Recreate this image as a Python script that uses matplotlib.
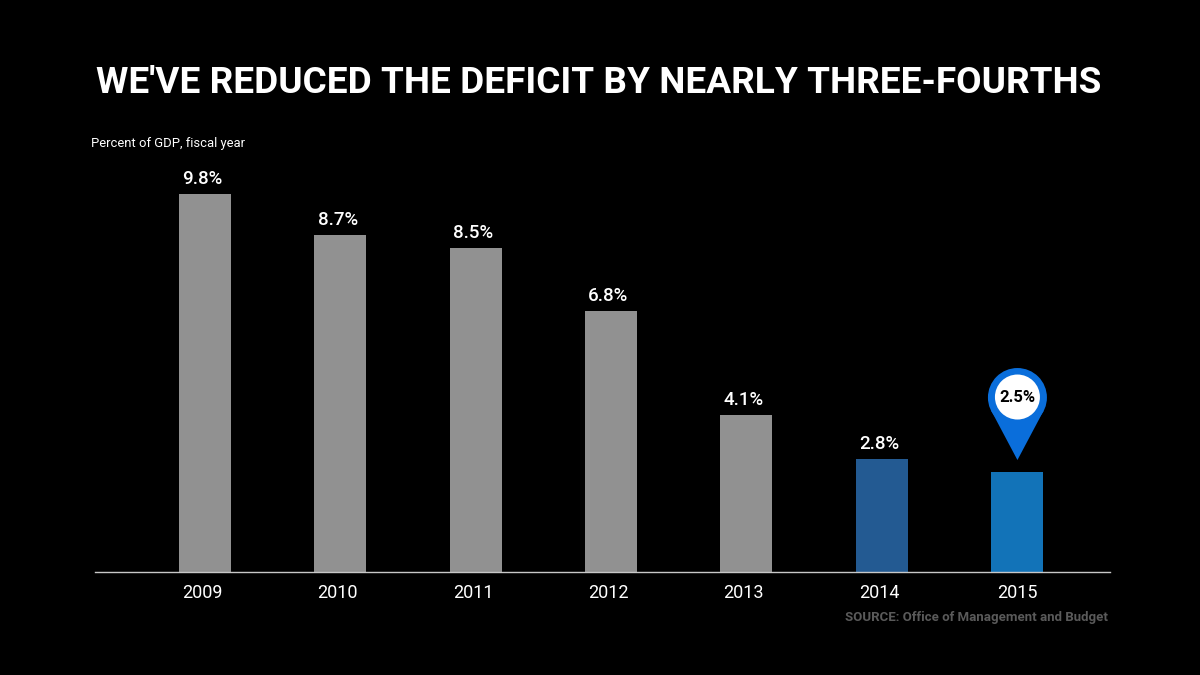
"""Deficit as a share of GDP, 2009-2015, dark slide style."""
import matplotlib

matplotlib.use("Agg")
import matplotlib.pyplot as plt
from matplotlib.patches import Circle, Polygon
from matplotlib.transforms import Affine2D, ScaledTranslation

years = ["2009", "2010", "2011", "2012", "2013", "2014", "2015"]
deficit = [9.8, 8.73, 8.4, 6.76, 4.07, 2.93, 2.59]
labels = ["9.8%", "8.7%", "8.5%", "6.8%", "4.1%", "2.8%", "2.5%"]
bar_colors = ["#919191", "#919191", "#919191", "#919191", "#919191", "#235a92", "#1273b8"]

TITLE = "WE'VE REDUCED THE DEFICIT BY NEARLY THREE-FOURTHS"
UNITS = "Percent of GDP, fiscal year"
SOURCE = "SOURCE: Office of Management and Budget"

W, H = 1200, 675
plt.rcParams["font.family"] = ["Roboto", "DejaVu Sans"]

fig = plt.figure(figsize=(W / 100, H / 100), dpi=100, facecolor="black")
# 95..1110 px wide, baseline at y=572 px, 38.6 px per percentage point
ax = fig.add_axes([95 / W, 1 - 572 / H, 1014.5 / W, 12 * 38.6 / H])
ax.set_facecolor("black")
ax.set_xlim(-0.812, 6.684)
ax.set_ylim(0, 12)

positions = range(len(years))
ax.bar(positions, deficit, width=0.384, color=bar_colors, zorder=2)

for x, value, label in zip(positions, deficit[:-1], labels[:-1]):
    ax.annotate(label, (x, value), xytext=(-1.8, 4.2), textcoords="offset points",
                ha="center", va="bottom", color="white", fontsize=13.5, fontweight="medium")

ax.set_xticks(list(positions), years)
ax.tick_params(axis="x", length=0, pad=9, colors="white", labelsize=13)
ax.set_yticks([])
for name, spine in ax.spines.items():
    spine.set_visible(name == "bottom")
ax.spines["bottom"].set_color("#c8c8c8")
ax.spines["bottom"].set_linewidth(1)

# reference year labels sit a little left of their bars, except the last
nudge = ScaledTranslation(-2.5 / 100, 0, fig.dpi_scale_trans)
for tick_label in ax.get_xticklabels()[:-1]:
    tick_label.set_transform(tick_label.get_transform() + nudge)

# map pin sits on the last bar, drawn in pixels relative to the bar top
tip = ax.transData.transform((6, deficit[-1]))
pin_tf = Affine2D().translate(tip[0] + 0.5, tip[1] + 12)
R = 29.5
fig.add_artist(Polygon([(0, 0), (-26, 49), (26, 49)], facecolor="#0a6edb", edgecolor="none",
                       transform=pin_tf))
fig.add_artist(Circle((0, 62.5), R, facecolor="#0a6edb", edgecolor="none", transform=pin_tf))
fig.add_artist(Circle((0, 63), 22.5, facecolor="white", edgecolor="none", transform=pin_tf))
fig.text((tip[0] + 0.5) / W, (tip[1] + 74.5) / H, labels[-1], ha="center", va="center",
         color="black", fontsize=12, fontweight="bold")

fig.text(598.5 / W, 1 - 83 / H, TITLE, ha="center", va="center", color="white",
         fontsize=26.65, fontweight="bold")
fig.text(91 / W, 1 - 143 / H, UNITS, ha="left", va="center", color="white", fontsize=9.4)
fig.text(1108 / W, 1 - 617 / H, SOURCE, ha="right", va="center", color="#5a5a5a",
         fontsize=9.53, fontweight="bold")

fig.savefig("out.png", dpi=100, facecolor=fig.get_facecolor())
